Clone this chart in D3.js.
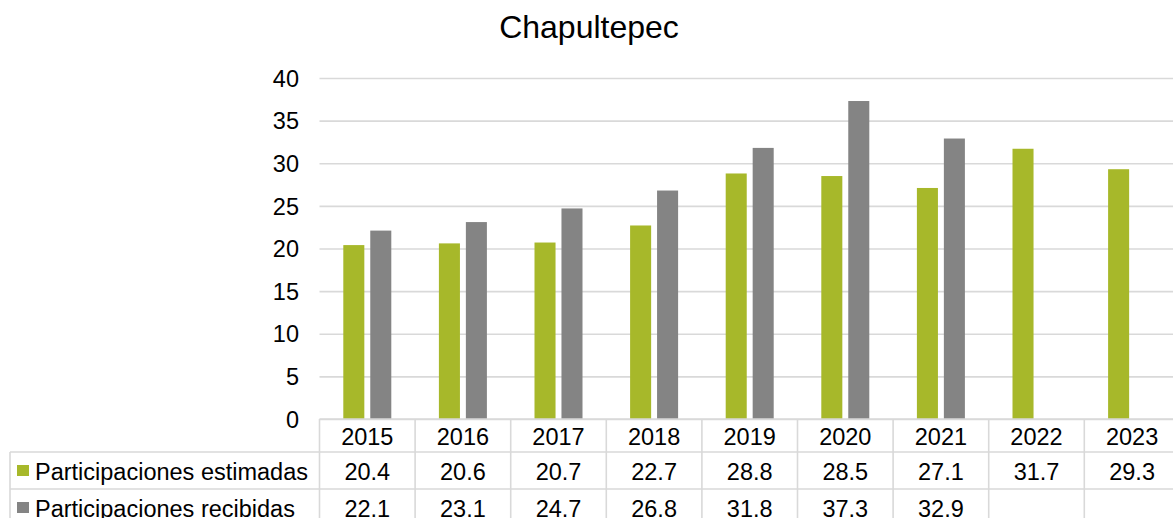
<!DOCTYPE html>
<html>
<head>
<meta charset="utf-8">
<script src="https://cdn.jsdelivr.net/npm/d3@7"></script>
<style>
  html, body { margin: 0; padding: 0; background: #fff; }
  svg { display: block; font-family: "Liberation Sans", Arial, sans-serif; }
</style>
</head>
<body>
<svg id="chart" width="1173" height="518"></svg>
<script>
const title = "Chapultepec";
const categories = ["2015", "2016", "2017", "2018", "2019", "2020", "2021", "2022", "2023"];
const seriesNames = ["Participaciones estimadas", "Participaciones recibidas"];
const estimadas = [20.4, 20.6, 20.7, 22.7, 28.8, 28.5, 27.1, 31.7, 29.3];
const recibidas = [22.1, 23.1, 24.7, 26.8, 31.8, 37.3, 32.9, null, null];
const yTicks = [0, 5, 10, 15, 20, 25, 30, 35, 40];
const colors = ["#a7b82a", "#848484"];

const series = [estimadas, recibidas];
const W = 1173, H = 518;
const plotLeft = 319.5, plotRight = 319.5 + 95.6 * categories.length;
const yTop = 78, yBottom = 419;
const fs = 23.5;
const gridColor = "#d9d9d9";

const svg = d3.select("#chart");

const x = d3.scaleBand().domain(categories).range([plotLeft, plotRight]).padding(0);
const y = d3.scaleLinear().domain([0, 40]).range([yBottom, yTop]);
const sub = d3.scaleBand().domain([0, 1]).range([-24, 24]).paddingInner(0.22);

// Title
svg.append("text")
  .attr("x", 589).attr("y", 38)
  .attr("text-anchor", "middle")
  .attr("font-size", 32).attr("fill", "#000")
  .text(title);

// Gridlines
const grid = svg.append("g")
  .attr("transform", `translate(${plotLeft},0)`)
  .call(d3.axisLeft(y).tickValues(yTicks).tickSize(-(plotRight - plotLeft)).tickFormat(""));
grid.select(".domain").remove();
grid.selectAll("line").attr("stroke", gridColor).attr("stroke-width", 1.6);

// Y axis labels
const yAxis = svg.append("g")
  .attr("transform", `translate(299,0)`)
  .call(d3.axisLeft(y).tickValues(yTicks).tickSize(0).tickPadding(0));
yAxis.select(".domain").remove();
yAxis.selectAll("text")
  .attr("font-size", fs).attr("fill", "#000")
  .attr("font-family", "Liberation Sans, Arial, sans-serif")
  .attr("dy", "0.35em");

// Bars
series.forEach((vals, si) => {
  svg.append("g").selectAll("rect")
    .data(categories.map((c, i) => ({ c, v: vals[i] })).filter(d => d.v != null))
    .join("rect")
    .attr("x", d => x(d.c) + x.bandwidth() / 2 + sub(si))
    .attr("width", sub.bandwidth())
    .attr("y", d => y(d.v))
    .attr("height", d => y(0) - y(d.v))
    .attr("fill", colors[si]);
});

// Data table
const rowTop = [419, 452, 489];
const rowH = [33, 37, 37];
const tableBottom = 526;
const tableLeft = 10;
const tbl = svg.append("g").attr("stroke", gridColor).attr("stroke-width", 1.6);
// horizontal lines
tbl.append("line").attr("x1", plotLeft).attr("x2", W + 20).attr("y1", rowTop[0]).attr("y2", rowTop[0]);
[rowTop[1], rowTop[2], tableBottom].forEach(yy => {
  tbl.append("line").attr("x1", tableLeft).attr("x2", W + 20).attr("y1", yy).attr("y2", yy);
});
// vertical lines
categories.forEach(c => {
  tbl.append("line").attr("x1", x(c)).attr("x2", x(c)).attr("y1", rowTop[0]).attr("y2", tableBottom);
});
tbl.append("line").attr("x1", plotRight).attr("x2", plotRight).attr("y1", rowTop[0]).attr("y2", tableBottom);
tbl.append("line").attr("x1", tableLeft).attr("x2", tableLeft).attr("y1", rowTop[1]).attr("y2", tableBottom);

// Header years
svg.append("g").selectAll("text")
  .data(categories).join("text")
  .attr("x", d => x(d) + x.bandwidth() / 2)
  .attr("y", rowTop[0] + rowH[0] / 2 + 9)
  .attr("text-anchor", "middle").attr("font-size", fs).attr("fill", "#000")
  .text(d => d);

// Series rows
series.forEach((vals, si) => {
  const cy = rowTop[si + 1] + rowH[si + 1] / 2;
  svg.append("rect")
    .attr("x", 17).attr("y", cy - 5.5).attr("width", 12).attr("height", 11)
    .attr("fill", colors[si]);
  svg.append("text")
    .attr("x", 35).attr("y", cy + 9)
    .attr("font-size", fs).attr("fill", "#000")
    .text(seriesNames[si]);
  svg.append("g").selectAll("text")
    .data(categories.map((c, i) => ({ c, v: vals[i] })).filter(d => d.v != null))
    .join("text")
    .attr("x", d => x(d.c) + x.bandwidth() / 2)
    .attr("y", cy + 9)
    .attr("text-anchor", "middle").attr("font-size", fs).attr("fill", "#000")
    .text(d => d.v.toFixed(1));
});
</script>
</body>
</html>
